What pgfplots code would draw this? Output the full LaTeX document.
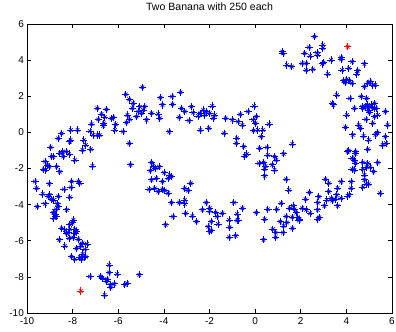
\documentclass[border=0pt]{standalone}
\usepackage{pgfplots}
\pgfplotsset{compat=1.18}
\usepackage{pgfplotstable}
\usepackage{fontspec}
\setmainfont{Liberation Sans}
\pgfplotstableread{
x y
-5.67 2.10
-5.52 1.83
-6.92 1.33
-6.52 1.27
-6.88 0.72
-6.73 1.01
-6.63 0.50
-6.30 0.77
-6.22 0.83
-6.11 0.44
-6.15 0.13
-7.17 0.46
-7.24 0.07
-7.10 -0.15
-6.91 -0.15
-6.81 -0.15
-5.79 0.04
-5.64 0.54
-5.60 0.96
-5.52 -0.61
-8.48 -0.06
-8.63 -0.33
-8.08 0.13
-7.78 0.13
-8.09 -0.42
-8.12 -0.52
-7.51 -0.42
-7.42 -0.70
-7.57 -0.98
-7.20 -0.94
-7.13 -1.86
-8.96 -0.83
-8.44 -1.07
-8.29 -1.07
-8.15 -1.20
-8.56 -1.16
-8.85 -1.35
-9.10 -1.81
-9.02 -1.90
-9.21 -1.62
-8.70 -1.90
-8.56 -2.18
-7.90 -1.53
-9.26 -2.05
-8.41 -1.34
-8.92 -1.34
-9.21 -2.08
-6.59 0.84
-6.66 0.36
-9.65 -2.72
-9.58 -3.09
-9.02 -2.85
-9.31 -3.41
-9.00 -3.46
-8.93 -3.70
-8.82 -3.74
-9.07 -3.56
-9.55 -4.11
-9.21 -3.96
-8.63 -3.55
-8.67 -3.96
-8.63 -4.11
-8.73 -4.26
-8.85 -4.44
-8.76 -4.57
-8.73 -4.66
-8.82 -4.75
-8.26 -4.29
-8.38 -3.15
-8.07 -3.04
-8.04 -2.72
-7.68 -2.82
-7.75 -2.72
-8.12 -3.59
-7.97 -4.85
-8.00 -5.00
-8.12 -5.12
-8.48 -5.31
-8.34 -5.40
-8.19 -5.55
-8.12 -5.36
-8.26 -5.59
-7.90 -5.36
-7.83 -5.49
-7.90 -5.62
-8.59 -5.95
-8.15 -5.86
-7.97 -5.81
-7.75 -5.92
-8.34 -6.29
-7.83 -6.42
-7.65 -6.29
-7.56 -6.14
-7.36 -6.18
-7.46 -6.47
-8.05 -6.88
-7.90 -7.02
-7.68 -6.91
-7.56 -6.73
-7.50 -6.91
-7.42 -6.88
-7.61 -7.02
-7.24 -7.98
-6.78 -7.98
-6.69 -8.08
-6.40 -7.34
-6.40 -7.76
-6.05 -7.84
-6.48 -8.13
-6.51 -8.26
-6.34 -8.44
-6.33 -8.59
-6.17 -8.39
-5.71 -8.44
-5.61 -8.35
-6.60 -9.00
-5.08 -7.89
-4.94 2.50
-4.15 1.92
-3.64 1.98
-3.27 2.22
-4.06 1.52
-3.62 1.55
-5.35 1.61
-5.38 1.33
-5.05 1.42
-4.91 1.24
-4.84 1.42
-5.13 1.15
-4.98 1.06
-5.20 0.87
-4.76 0.69
-4.54 1.06
-4.25 1.02
-4.18 0.78
-5.49 0.72
-3.23 1.33
-3.08 1.15
-2.79 1.42
-2.72 1.09
-2.40 1.06
-2.28 1.24
-2.14 1.15
-2.21 0.96
-1.99 1.06
-1.89 1.46
-1.77 0.96
-1.84 0.78
-3.33 0.83
-2.90 0.65
-2.50 0.91
-3.77 0.04
-2.40 0.13
-2.03 0.23
-1.29 0.78
-1.00 0.69
-0.65 1.00
-0.75 0.59
-0.56 0.41
-0.31 1.15
-0.05 1.46
-0.09 0.69
0.02 0.50
0.05 0.87
-0.07 0.10
0.12 0.13
-1.36 -0.05
-0.80 -0.33
-0.82 -0.60
-0.50 -0.79
-4.54 -1.67
-4.47 -1.86
-4.21 -1.90
-4.35 -1.99
-4.59 -2.12
-3.99 -2.23
-3.74 -2.36
-3.67 -2.45
-3.81 -2.54
-4.54 -2.63
-4.33 -2.54
-4.06 -2.73
-4.65 -3.15
-4.40 -3.10
-4.25 -3.28
-4.06 -3.15
-3.96 -3.22
-3.81 -3.37
-2.82 -2.82
-3.08 -3.10
-2.94 -3.22
-3.67 -3.89
-3.33 -3.89
-3.08 -3.74
-3.08 -3.96
-3.60 -4.66
-3.92 -5.12
-3.04 -4.48
-2.75 -4.63
-2.57 -4.94
-2.14 -3.89
-2.31 -4.29
-1.99 -4.20
-1.99 -4.35
-1.73 -4.44
-1.67 -4.66
-1.44 -4.48
-1.92 -4.94
-2.06 -5.22
-1.99 -5.49
-1.92 -5.44
-1.63 -5.07
-1.14 -4.85
-1.12 -5.25
-1.14 -5.81
-0.85 -5.73
-0.93 -3.89
-0.56 -4.20
-0.79 -4.52
-0.79 -4.88
-0.75 -4.85
-0.46 -1.31
-0.36 -1.20
-5.46 -1.80
2.60 5.30
2.36 4.71
2.97 4.84
2.97 4.66
1.19 4.47
1.22 4.38
2.17 4.38
2.41 4.23
2.71 4.41
2.75 4.28
3.77 4.15
3.77 4.04
3.33 4.01
1.39 3.73
1.61 3.64
2.06 3.82
2.24 3.82
2.24 3.45
2.53 3.49
2.94 3.79
3.00 3.86
3.19 3.23
3.81 3.45
4.11 3.55
4.25 3.91
4.79 3.79
4.50 3.42
4.46 3.23
3.87 2.86
4.02 2.94
4.13 2.86
3.96 2.75
4.25 2.72
5.04 2.81
4.94 2.72
4.79 2.53
5.16 2.62
5.27 2.62
3.58 2.07
3.38 1.61
3.43 1.52
4.16 1.88
4.65 1.98
4.89 1.88
5.23 1.61
4.94 1.52
4.83 1.42
5.16 1.38
4.72 1.33
4.35 1.33
4.98 1.24
5.30 1.33
4.94 1.42
5.08 1.52
5.23 1.33
5.01 1.09
4.69 1.42
4.02 0.96
5.38 0.96
5.23 0.87
5.71 1.15
4.86 0.72
5.16 0.50
3.96 0.28
4.54 0.41
4.62 0.22
5.81 0.41
0.34 0.13
0.61 0.46
0.27 -0.24
0.20 -0.88
0.52 -0.83
0.56 -1.25
0.85 -1.34
0.93 -1.53
1.25 -1.19
0.17 -1.71
0.37 -1.67
0.46 -1.86
0.42 -2.04
0.75 -1.80
0.85 -2.08
0.42 -2.41
1.63 -0.64
1.36 -2.60
1.48 -3.19
2.38 -3.33
3.08 -2.60
3.23 -2.82
3.23 -3.28
3.62 -3.09
3.77 -2.73
3.58 -3.46
2.79 -3.56
2.75 -3.89
3.14 -3.74
3.33 -3.65
3.38 -3.78
3.52 -3.70
3.77 -3.65
4.06 -3.52
4.13 -3.46
4.21 -3.09
4.21 -2.73
3.62 -4.07
3.04 -4.07
2.21 -3.70
2.06 -4.20
1.66 -4.07
1.73 -4.26
1.80 -4.44
1.51 -4.20
1.63 -4.70
1.36 -4.66
1.39 -4.99
1.14 -3.92
0.95 -4.26
0.56 -4.26
0.05 -4.44
0.42 -4.81
1.10 -4.94
1.25 -5.18
1.87 -4.70
1.95 -4.81
1.92 -4.88
1.63 -5.31
0.78 -5.36
0.90 -5.55
1.22 -5.55
0.90 -5.81
0.37 -5.95
2.75 -4.29
2.82 -4.70
2.75 -4.81
2.41 -4.48
2.24 -4.29
4.06 -1.07
4.40 -1.19
4.25 -1.43
4.35 -1.56
4.40 -1.71
4.25 -2.04
4.35 -2.08
4.72 -1.67
4.72 -2.04
4.94 -1.71
4.89 -1.93
5.19 -2.17
5.38 -1.67
5.04 -1.93
4.79 -2.36
4.79 -2.63
4.86 -2.86
4.98 -2.86
4.72 -3.04
5.48 -3.37
4.10 -1.01
4.40 -1.07
4.94 -0.94
4.75 -0.20
4.98 -0.42
5.27 -0.14
5.37 -0.01
5.71 -0.24
5.59 -0.70
5.74 -0.60
4.28 -0.14
}\bluepts
\pgfplotstableread{
x y
4.06 4.74
-7.64 -8.78
}\redpts
\begin{document}
\begin{tikzpicture}
\begin{axis}[
  scale only axis,
  width=365bp, height=289bp,
  xmin=-10, xmax=6, ymin=-10, ymax=6,
  xtick={-10,-8,...,6}, ytick={-10,-8,...,6},
  tick align=inside,
  major tick length=4bp,
  axis line style={line width=0.6bp},
  every tick/.style={black, line width=0.6bp},
  font=\fontsize{10}{12}\selectfont,
  /pgf/number format/assume math mode=true,
  title={Two Banana with 250 each},
  title style={at={(0.5,1)}, anchor=south, inner sep=0pt, yshift=7bp, font=\fontsize{10.6}{12}\selectfont},
  xticklabel style={inner sep=0pt, yshift=-4bp},
  yticklabel style={inner sep=0pt, xshift=-3bp},
  clip=false,
]
\addplot[only marks, blue, mark=+, mark size=3.6bp, mark options={line width=0.85bp}] table[x=x,y=y] {\bluepts};
\addplot[only marks, blue, mark=x, mark size=2.5bp, mark options={line width=0.7bp}] table[x=x,y=y] {\bluepts};
\addplot[only marks, red, mark=+, mark size=3.6bp, mark options={line width=0.85bp}] table[x=x,y=y] {\redpts};
\addplot[only marks, red, mark=x, mark size=2.5bp, mark options={line width=0.7bp}] table[x=x,y=y] {\redpts};
\end{axis}
\pgfresetboundingbox
\path[use as bounding box] ([shift={(-27bp,-19bp)}]current axis.south west) rectangle ([shift={(4bp,24bp)}]current axis.north east);
\end{tikzpicture}
\end{document}
